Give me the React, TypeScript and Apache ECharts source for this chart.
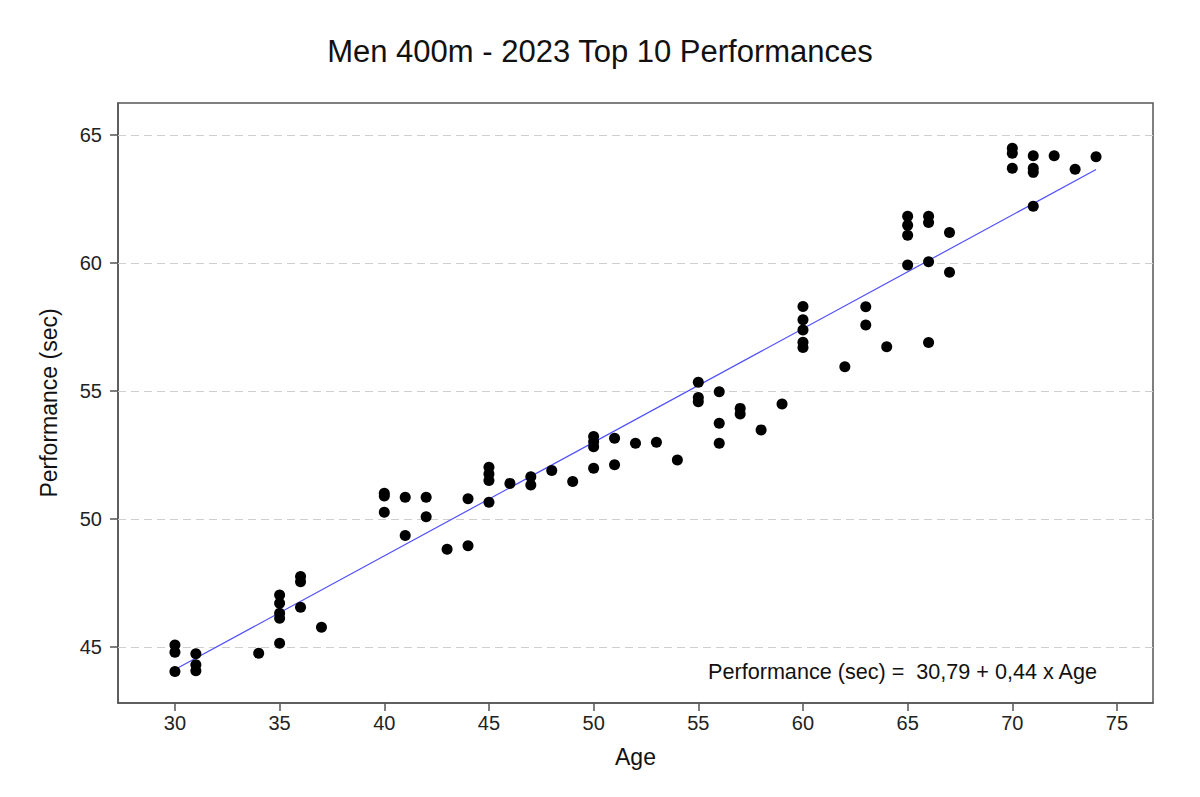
import React, { useEffect, useRef } from "react";
import * as echarts from "echarts";

// Data
const ageValues: number[] = [
  30, 30, 30,
  31, 31, 31,
  34,
  35, 35, 35, 35, 35,
  36, 36, 36,
  37,
  40, 40, 40,
  41, 41,
  42, 42,
  43,
  44, 44,
  45, 45, 45, 45,
  46,
  47, 47,
  48,
  49,
  50, 50, 50, 50,
  51, 51,
  52,
  53,
  54,
  55, 55, 55,
  56, 56, 56,
  57, 57,
  58,
  59,
  60, 60, 60, 60, 60,
  62,
  63, 63,
  64,
  65, 65, 65, 65,
  66, 66, 66, 66,
  67, 67,
  70, 70, 70,
  71, 71, 71, 71,
  72,
  73,
  74,
];

const performanceValues: number[] = [
  45.08, 44.79, 44.04,
  44.73, 44.3, 44.07,
  44.75,
  47.03, 46.71, 46.32, 46.12, 45.14,
  47.75, 47.55, 46.55,
  45.77,
  51.0, 50.9, 50.26,
  50.85, 49.35,
  50.85, 50.09,
  48.82,
  50.79, 48.95,
  52.02, 51.76, 51.5, 50.65,
  51.39,
  51.65, 51.33,
  51.89,
  51.46,
  53.22, 53.02, 52.82, 51.98,
  53.15, 52.12,
  52.96,
  53.0,
  52.3,
  55.34, 54.74, 54.58,
  54.97, 53.74, 52.96,
  54.32, 54.1,
  53.48,
  54.49,
  58.3, 57.78, 57.38, 56.9, 56.7,
  55.95,
  58.29, 57.58,
  56.73,
  61.83, 61.47, 61.08, 59.92,
  61.83, 61.58, 60.05, 56.89,
  61.19, 59.64,
  64.48, 64.29, 63.7,
  64.19, 63.7, 63.54, 62.22,
  64.19,
  63.66,
  64.15,
];

// Fitted line end points (as drawn in the reference)
const fitAges: number[] = [30, 74];
const fitPerformance: number[] = [44.12, 63.65];

const xTickValues: number[] = [30, 35, 40, 45, 50, 55, 60, 65, 70, 75];
const yTickValues: number[] = [45, 50, 55, 60, 65];

const titleText = "Men 400m - 2023 Top 10 Performances";
const xAxisName = "Age";
const yAxisName = "Performance (sec)";
const equationText = "Performance (sec) =  30,79 + 0,44 x Age";

const FONT = '"Liberation Sans", Arial, sans-serif';

export default function App() {
  const ref = useRef<HTMLDivElement>(null);

  useEffect(() => {
    if (!ref.current) return;
    const chart = echarts.init(ref.current, undefined, { renderer: "svg" });

    const points = ageValues.map((a, i) => [a, performanceValues[i]]);
    const fitLine = fitAges.map((a, i) => [a, fitPerformance[i]]);

    chart.setOption({
      animation: false,
      backgroundColor: "#ffffff",
      textStyle: { fontFamily: FONT },
      title: {
        text: titleText,
        left: "center",
        top: 31,
        textStyle: {
          fontFamily: FONT,
          fontSize: 31,
          fontWeight: "normal",
          color: "#111",
        },
      },
      grid: {
        left: 118,
        right: 47,
        top: 103,
        bottom: 94,
        show: true,
        borderColor: "#555",
        borderWidth: 1.5,
        backgroundColor: "transparent",
      },
      xAxis: {
        type: "value",
        min: 27.28,
        max: 76.72,
        name: xAxisName,
        nameLocation: "middle",
        nameGap: 42,
        nameTextStyle: { fontFamily: FONT, fontSize: 23, color: "#111" },
        axisLine: { show: true, lineStyle: { color: "#555", width: 1.5 } },
        axisTick: {
          show: true,
          length: 8,
          customValues: xTickValues,
          lineStyle: { color: "#555", width: 1.5 },
        },
        axisLabel: {
          show: true,
          customValues: xTickValues,
          margin: 10,
          fontFamily: FONT,
          fontSize: 20,
          color: "#222",
        },
        splitLine: { show: false },
      },
      yAxis: {
        type: "value",
        min: 42.81,
        max: 66.25,
        name: yAxisName,
        nameLocation: "middle",
        nameGap: 58,
        nameTextStyle: { fontFamily: FONT, fontSize: 23, color: "#111" },
        axisLine: { show: true, lineStyle: { color: "#555", width: 1.5 } },
        axisTick: {
          show: true,
          length: 8,
          customValues: yTickValues,
          lineStyle: { color: "#555", width: 1.5 },
        },
        axisLabel: {
          show: true,
          customValues: yTickValues,
          margin: 16,
          fontFamily: FONT,
          fontSize: 20,
          color: "#222",
        },
        splitLine: { show: false },
      },
      series: [
        {
          type: "line",
          data: fitLine,
          symbol: "none",
          silent: true,
          lineStyle: { color: "#5050ff", width: 1.2 },
          z: 2,
          markLine: {
            silent: true,
            symbol: ["none", "none"],
            label: { show: false },
            lineStyle: { type: [8, 5], color: "#cfcfcf", width: 1 },
            data: yTickValues.map((v) => ({ yAxis: v })),
            z: 1,
          },
        },
        {
          type: "scatter",
          data: points,
          symbol: "circle",
          symbolSize: 11,
          itemStyle: { color: "#000000", opacity: 1 },
          z: 3,
        },
      ],
      graphic: [
        {
          type: "text",
          x: 1097,
          y: 671,
          silent: true,
          style: {
            text: equationText,
            align: "right",
            verticalAlign: "middle",
            fontFamily: FONT,
            fontSize: 21.6,
            fill: "#111",
          },
        },
      ],
    });

    return () => {
      chart.dispose();
    };
  }, []);

  return (
    <div
      ref={ref}
      style={{ position: "absolute", left: 0, top: 0, width: 1200, height: 797 }}
    />
  );
}
